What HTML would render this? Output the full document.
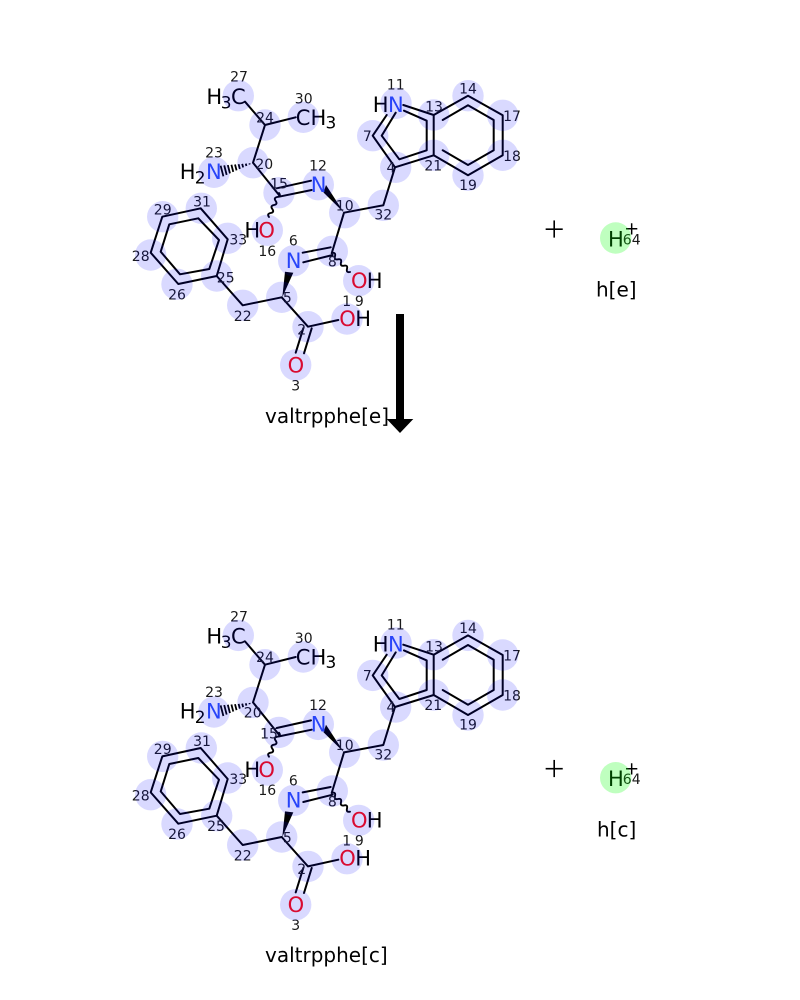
<!DOCTYPE html>
<html><head><meta charset="utf-8"><style>
html,body{margin:0;padding:0;background:#fff}
svg{display:block}
text{font-family:"DejaVu Sans",sans-serif}
.a{font-size:21px;fill:#000}
.s{font-size:17px;fill:#000}
.b{fill:#3050F8}.r{fill:#FF0D0D}
.n{font-size:14px;fill:#1a1a1a;text-anchor:middle}
.t{font-size:20px;fill:#000}
.p{font-size:28.5px;fill:#000;stroke:#fff;stroke-width:.7px;paint-order:fill;text-anchor:middle}
.bd path{fill:none;stroke:#000;stroke-width:2;stroke-linejoin:round;stroke-linecap:round}
.c circle{fill:rgba(0,0,255,.15)}
</style></head><body>
<svg width="800" height="1000" viewBox="0 0 800 1000" xmlns="http://www.w3.org/2000/svg">
<defs>
<g id="mol">
<g class="bd">
<path d="M245 101.7L265 125L295.7 117.3M265 125L253 162.7L279 195"/>
<path d="M276.7 188.3L311 180.7M279 196.7L311.7 190"/>
<path d="M279 193Q281.4 196.3 277.3 197Q273.3 197.7 275.7 201Q278 204.3 274 205Q270 205.7 272.3 209Q274.7 212.3 270.7 213Q266.6 213.7 269 217" style="stroke-width:1.9"/>
<path d="M332 253Q336 252.2 335 256.2Q334 260.2 338 259.3Q342 258.5 341 262.5Q340 266.5 344 265.7Q348 264.8 347 268.8Q346 272.8 350 272" style="stroke-width:1.9"/>
<path d="M216.7 276L227.7 239.3L200.7 208.3L162.3 216.7L150.7 252.7L178.3 284Z"/>
<path d="M219 240L198.3 218.3L169.3 224.3L160.7 251.7L180 274.3L209.3 269Z"/>
<path d="M216.7 276L242.7 305.3L281.7 297.3L308 326.7L338.3 320"/>
<path d="M303.3 328.3L295.7 352.7M311.7 328.3L304 353.3"/>
<path d="M302.7 252.7L330.7 247.3M303.3 262.3L332.7 255"/>
<path d="M331.7 253.3L344 212.7L383.3 205.3L395 167.3L372.7 135.7L386.7 115M403.3 105L433.7 115L433.7 155.3L395 167.3"/>
<path d="M395.7 112.7L381.7 135.7L399.3 159.3L426.7 150.3L426.7 120.7L404 110.7"/>
<path d="M433.7 115L468 95.7L502.7 115.3L502.7 155.3L468 175.3L433.7 155.3"/>
<path d="M442.7 120L468 105.3L493.7 120L493.7 150.3L468 165L442.7 150.3"/>
<path d="M249.71 164.48L249.41 163.3M246.42 165.96L245.8 163.6M243.13 167.45L242.21 163.89M239.83 168.93L238.61 164.19M236.55 170.4L235.01 164.48M233.25 171.88L231.41 164.78M229.96 173.36L227.82 165.08M226.66 174.85L224.22 165.37M223.38 176.33L220.62 165.67" style="stroke-width:1.8;stroke-linecap:butt"/>
</g>
<polygon points="326,185 323.5,192.5 344,212.7" fill="#000"/>
<polygon points="285,271.7 293.3,272.7 282.3,297.3" fill="#000"/>
</g>
<g id="circ" class="c">
<circle cx="238.3" cy="95.7" r="15.7"/><circle cx="265" cy="125" r="15.7"/><circle cx="303.3" cy="117.3" r="15.7"/>
<circle cx="253" cy="162.7" r="15.7"/><circle cx="214" cy="172.3" r="15.7"/><circle cx="279" cy="192.7" r="15.7"/>
<circle cx="318.3" cy="184.7" r="15.7"/><circle cx="344.7" cy="212.7" r="15.7"/><circle cx="267.3" cy="230.3" r="15.7"/>
<circle cx="332.3" cy="251.3" r="15.7"/><circle cx="293.7" cy="260.7" r="15.7"/><circle cx="281.7" cy="297.3" r="15.7"/>
<circle cx="308" cy="326.7" r="15.7"/><circle cx="347" cy="319" r="15.7"/><circle cx="295.7" cy="365" r="15.7"/>
<circle cx="358.7" cy="280.7" r="15.7"/><circle cx="242.7" cy="305.3" r="15.7"/><circle cx="216.7" cy="276" r="15.7"/>
<circle cx="227.7" cy="238.3" r="15.7"/><circle cx="201.3" cy="208.3" r="15.7"/><circle cx="162.7" cy="216.7" r="15.7"/>
<circle cx="150.7" cy="255" r="15.7"/><circle cx="177" cy="284.3" r="15.7"/><circle cx="383.3" cy="205.3" r="15.7"/>
<circle cx="395.7" cy="167.3" r="15.7"/><circle cx="372.7" cy="135.7" r="15.7"/><circle cx="396" cy="103.3" r="15.7"/>
<circle cx="433.7" cy="115" r="15.7"/><circle cx="433.7" cy="155.3" r="15.7"/><circle cx="468" cy="95.7" r="15.7"/>
<circle cx="502.7" cy="115.3" r="15.7"/><circle cx="502.7" cy="155.3" r="15.7"/><circle cx="468" cy="175.3" r="15.7"/>
</g>
</defs>

<!-- arrow -->
<rect x="396" y="314" width="8" height="106" fill="#000"/>
<polygon points="386.7,419 413.3,419 400,433" fill="#000"/>

<!-- TOP -->
<use href="#mol"/>
<g>
<text class="a" x="206.4" y="104">H</text><text class="s" x="220.7" y="108.5">3</text><text class="a" x="231" y="104">C</text>
<text class="a" x="295.8" y="125">C</text><text class="a" x="310.5" y="125">H</text><text class="s" x="325.5" y="128.5">3</text>
<text class="a" x="179.8" y="179">H</text><text class="s" x="194.7" y="183.5">2</text><text class="a b" x="206" y="179">N</text>
<text class="a b" x="310.8" y="192">N</text>
<text class="a" x="244.4" y="237.5">H</text><text class="a r" x="258.4" y="237.5">O</text>
<text class="a b" x="285.8" y="268">N</text>
<text class="a r" x="351" y="288">O</text><text class="a" x="366.8" y="288">H</text>
<text class="a r" x="339.3" y="326">O</text><text class="a" x="355.2" y="326">H</text>
<text class="a r" x="287.6" y="372.5">O</text>
<text class="a" x="372.8" y="112">H</text><text class="a b" x="388" y="112">N</text>
<text class="a" x="608" y="246.5">H</text>
<text class="n" x="631.7" y="234.6" style="font-size:18px;fill:#000">+</text>
<text class="p" x="554.2" y="237.8">+</text>
<text class="t" x="265" y="423">valtrpphe[e]</text>
<text class="t" x="596" y="296.5">h[e]</text>
<text class="n" x="239" y="81.7">27</text><text class="n" x="265" y="122.3">24</text><text class="n" x="303.7" y="103.3">30</text>
<text class="n" x="214" y="157.3">23</text><text class="n" x="264.3" y="169">20</text><text class="n" x="279" y="188.3">15</text>
<text class="n" x="318" y="170.3">12</text><text class="n" x="344.7" y="210.3">10</text><text class="n" x="267.3" y="256">16</text>
<text class="n" x="202" y="206.3">31</text><text class="n" x="162.7" y="214.3">29</text><text class="n" x="238.3" y="244.3">33</text>
<text class="n" x="140.7" y="261">28</text><text class="n" x="177" y="299.3">26</text><text class="n" x="225.7" y="282.3">25</text>
<text class="n" x="293.3" y="245.7">6</text><text class="n" x="332.3" y="266.7">8</text><text class="n" x="287.3" y="302.7">5</text>
<text class="n" x="301.7" y="334.3">2</text><text class="n" x="242.7" y="321">22</text><text class="n" x="346.7" y="306">1</text>
<text class="n" x="359.3" y="306">9</text><text class="n" x="295.7" y="390.3">3</text><text class="n" x="395.7" y="89.7">11</text>
<text class="n" x="367.3" y="141">7</text><text class="n" x="434" y="111.7">13</text><text class="n" x="468" y="93.3">14</text>
<text class="n" x="512" y="121">17</text><text class="n" x="512" y="161">18</text><text class="n" x="433.3" y="170.3">21</text>
<text class="n" x="468" y="190">19</text><text class="n" x="391" y="172.3">4</text><text class="n" x="383.3" y="219.7">32</text>
<text class="n" x="631.7" y="244.3">64</text>
</g>
<use href="#circ"/>
<circle cx="615.7" cy="238" r="15.7" fill="rgba(0,255,0,.25)"/>

<!-- BOTTOM -->
<g transform="translate(0,539.7)"><use href="#mol"/></g>
<g>
<text class="a" x="206.4" y="643.7">H</text><text class="s" x="220.7" y="648.2">3</text><text class="a" x="231" y="643.7">C</text>
<text class="a" x="295.8" y="664.7">C</text><text class="a" x="310.5" y="664.7">H</text><text class="s" x="325.5" y="668.2">3</text>
<text class="a" x="179.8" y="718.7">H</text><text class="s" x="194.7" y="723.2">2</text><text class="a b" x="206" y="718.7">N</text>
<text class="a b" x="310.8" y="731.7">N</text>
<text class="a" x="244.4" y="777.2">H</text><text class="a r" x="258.4" y="777.2">O</text>
<text class="a b" x="285.8" y="807.7">N</text>
<text class="a r" x="351" y="827.7">O</text><text class="a" x="366.8" y="827.7">H</text>
<text class="a r" x="339.3" y="865.7">O</text><text class="a" x="355.2" y="865.7">H</text>
<text class="a r" x="287.6" y="912.2">O</text>
<text class="a" x="372.8" y="651.7">H</text><text class="a b" x="388" y="651.7">N</text>
<text class="a" x="608" y="786.2">H</text>
<text class="n" x="631.7" y="774.3" style="font-size:18px;fill:#000">+</text>
<text class="p" x="554.2" y="777.5">+</text>
<text class="t" x="265" y="962">valtrpphe[c]</text>
<text class="t" x="597" y="836.5">h[c]</text>
<text class="n" x="239" y="621.4">27</text><text class="n" x="265" y="662">24</text><text class="n" x="303.7" y="643">30</text>
<text class="n" x="214" y="697">23</text><text class="n" x="252.7" y="717.7">20</text><text class="n" x="269" y="738.3">15</text>
<text class="n" x="318" y="710">12</text><text class="n" x="344.7" y="750">10</text><text class="n" x="267.3" y="795">16</text>
<text class="n" x="202" y="746">31</text><text class="n" x="162.7" y="754">29</text><text class="n" x="238.3" y="784">33</text>
<text class="n" x="140.7" y="800.7">28</text><text class="n" x="177" y="839">26</text><text class="n" x="216" y="831">25</text>
<text class="n" x="293.3" y="785.4">6</text><text class="n" x="332.3" y="806.4">8</text><text class="n" x="287.3" y="842.4">5</text>
<text class="n" x="301.7" y="874">2</text><text class="n" x="242.7" y="860.7">22</text><text class="n" x="346.7" y="845.7">1</text>
<text class="n" x="359.3" y="845.7">9</text><text class="n" x="295.7" y="930">3</text><text class="n" x="395.7" y="629.4">11</text>
<text class="n" x="367.3" y="680.7">7</text><text class="n" x="434" y="651.4">13</text><text class="n" x="468" y="633">14</text>
<text class="n" x="512" y="660.7">17</text><text class="n" x="512" y="700.7">18</text><text class="n" x="433.3" y="710">21</text>
<text class="n" x="468" y="729.7">19</text><text class="n" x="391" y="712">4</text><text class="n" x="383.3" y="759.4">32</text>
<text class="n" x="631.7" y="784">64</text>
</g>
<g transform="translate(0,539.7)"><use href="#circ"/></g>
<circle cx="615.7" cy="777.7" r="15.7" fill="rgba(0,255,0,.25)"/>
</svg>
</body></html>
